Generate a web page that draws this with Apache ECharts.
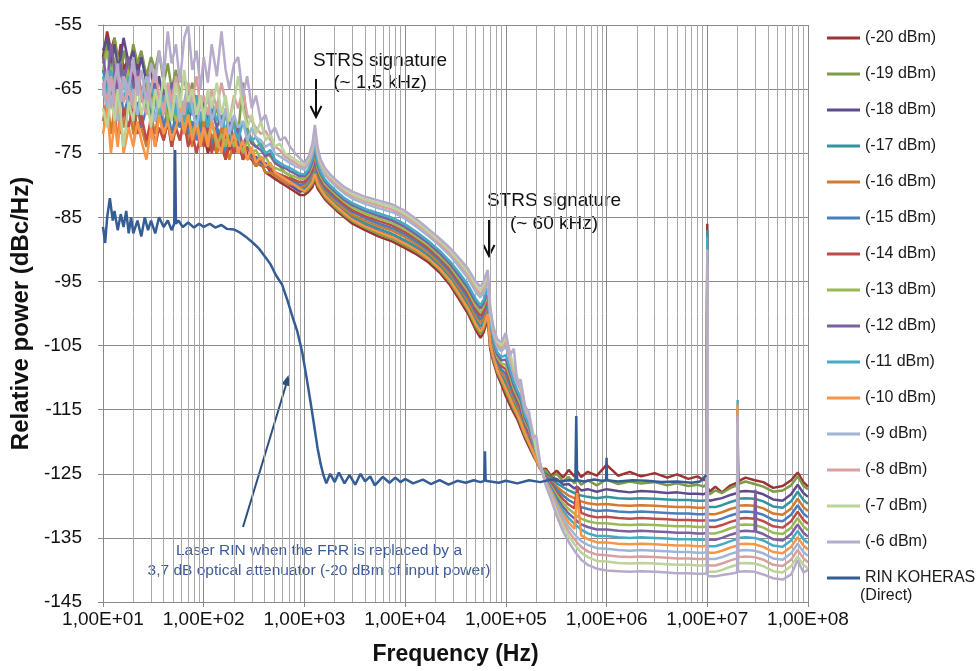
<!DOCTYPE html>
<html lang="en">
<head>
<meta charset="UTF-8">
<title>FRR RIN</title>
<script src="https://cdn.jsdelivr.net/npm/echarts@6/dist/echarts.min.js"></script>
<style>
  html, body { margin: 0; padding: 0; background: #fff; }
  #main { width: 976px; height: 671px; }
</style>
</head>
<body>
<div id="main"></div>
<script>
// shared frequency grid (Hz) for the FRR traces
var freq = [10, 11, 12, 13, 14, 15, 16, 18, 20, 22, 24, 27, 30, 33, 36, 40, 44, 48, 53, 58, 64, 70, 77, 85, 93,
  100, 110, 120, 135, 150, 165, 180, 200, 220, 245, 270, 300, 330, 370, 410, 460, 510, 570, 640, 720, 810, 900,
  1000, 1100, 1200, 1270, 1350, 1450, 1600, 1800, 2100, 2500, 3000, 4000, 5500, 7500, 10000, 13000, 17000, 22000, 28000, 35000, 42000, 50000, 56000, 60000, 66000, 70000, 75000, 82000, 90000,
  1e5, 1.1e5, 1.2e5, 1.3e5, 1.4e5, 1.55e5, 1.7e5, 1.85e5, 2e5, 2.2e5,
  2.5e5, 2.8e5, 3.2e5, 3.7e5, 4.2e5, 4.8e5, 5.1e5, 5.6e5, 6.5e5, 8e5,
  1e6, 1.3e6, 1.7e6, 2.2e6, 3e6, 4e6, 5e6, 6.5e6, 8e6, 9.2e6, 9.9e6, 1e7, 1.01e7, 1.06e7, 1.2e7, 1.4e7, 1.7e7, 1.98e7, 2e7, 2.02e7, 2.4e7, 2.95e7, 3e7, 3.05e7, 3.6e7, 4.5e7, 5.6e7, 6.8e7, 7.9e7, 9e7, 1e8];

var p20 = [-60, -56, -59, -57, -61, -58, -62, -60, -64, -61, -66, -63, -67, -65, -69, -66, -70, -68, -71, -69, -72, -70, -73, -71, -74,
  -72, -75, -73, -75, -72, -76, -74, -75, -73, -76, -75, -76, -77, -76.5, -78, -78.5, -79, -79.5, -80, -80.5, -81, -81.5,
  -81.5, -81.0, -80.3, -79.2, -80.5, -81.2, -82.2, -83.0, -84.0, -85.0, -86.0, -87.0, -88.0, -88.8, -89.8, -90.8, -92.0, -93.6, -95.6, -98.0, -100.0, -102.5, -103.8, -103.0, -101.0, -105.6, -107.5, -109.5, -111.0,
  -112.9, -114.3, -115.5, -116.5, -117.8, -119.5, -120.8, -122.0, -123.0, -124.3,
  -124.2, -125.3, -124.5, -125.6, -124.4, -125.4, -124.6, -125.5, -124.7, -125.3,
  -123.6, -125.3, -124.7, -125.4, -124.9, -125.6, -125.1, -125.8, -125.4, -126.0, -125.6, -86, -127.2, -127.8, -127.0, -127.9, -126.8, -126.4, -115, -126.2, -125.6, -126.0, -125.8, -126.1, -126.3, -127.2, -126.9, -126.0, -124.8, -126.3, -127.0];

var p19 = [-61, -58, -62, -57, -60, -63, -59, -62, -58, -61, -59, -63, -60, -62, -59, -64, -61, -65, -62, -66, -63, -67, -64, -68, -66,
  -69, -66, -70, -68, -71, -69, -72, -70, -72, -64, -71, -73, -74, -73.5, -75, -75.5, -76.5, -77, -78, -78.5, -79.5, -80,
  -81.1, -80.6, -79.8, -78.6, -80.0, -80.8, -81.9, -82.7, -83.7, -84.7, -85.6, -86.6, -87.6, -88.4, -89.4, -90.4, -91.6, -93.2, -95.2, -97.5, -99.5, -102.0, -103.2, -102.4, -100.4, -105.1, -107.1, -109.1, -110.5,
  -112.2, -113.7, -115.0, -116.0, -117.3, -119.1, -120.4, -121.7, -122.9, -124.2,
  -124.5, -125.6, -125.0, -126.2, -125.5, -126.5, -125.8, -126.7, -126.0, -126.8,
  -125.9, -126.6, -126.2, -126.5, -126.3, -126.8, -126.5, -126.9, -126.7, -127.0, -126.6, -87, -127.9, -128.2, -127.6, -128.0, -127.2, -126.8, -115.5, -126.6, -126.2, -126.6, -126.4, -126.7, -127.0, -127.8, -127.6, -126.8, -125.4, -126.9, -127.4];

var p18 = [-59, -57, -61, -58, -62, -60, -57, -61, -59, -63, -60, -64, -62, -66, -63, -67, -65, -68, -66, -69, -67, -70, -68, -71, -69,
  -72, -70, -73, -71, -74, -72, -74, -73, -75, -73, -75, -76, -75.5, -77, -76.5, -78, -78.5, -79, -79.5, -80, -80.5, -81,
  -80.8, -80.2, -79.3, -78.0, -79.6, -80.5, -81.5, -82.3, -83.3, -84.3, -85.3, -86.3, -87.2, -88.0, -89.0, -90.0, -91.3, -92.8, -94.8, -97.1, -99.0, -101.4, -102.7, -101.9, -99.9, -104.7, -106.7, -108.7, -110.1,
  -111.5, -113.0, -114.4, -115.5, -116.7, -118.7, -120.0, -121.4, -122.7, -124.2,
  -125.1, -125.6, -125.8, -126.7, -126.6, -127.3, -127.0, -127.6, -127.4, -127.8,
  -127.4, -127.7, -127.9, -127.7, -127.8, -128.0, -127.9, -128.1, -128.1, -128.2, -127.9, -88, -129.0, -129.2, -129.0, -128.8, -128.3, -128.0, -116, -127.8, -127.7, -127.8, -127.8, -127.8, -128.2, -129.0, -129.2, -128.2, -126.7, -128.0, -128.6];

var p17 = [-62, -65, -61, -64, -63, -66, -62, -65, -68, -64, -67, -65, -69, -66, -70, -67, -69, -66, -70, -68, -71, -68, -72, -69, -71,
  -69, -72, -70, -73, -71, -74, -72, -74, -73, -75, -74, -75, -76, -75.5, -77, -77, -78, -78.5, -79, -79.5, -80, -80.5,
  -80.4, -79.8, -78.8, -77.4, -79.1, -80.1, -81.2, -82.0, -83.0, -84.0, -84.9, -85.9, -86.8, -87.6, -88.6, -89.6, -90.9, -92.5, -94.4, -96.6, -98.5, -100.9, -102.1, -101.3, -99.3, -104.2, -106.3, -108.3, -109.6,
  -110.8, -112.4, -113.9, -115.0, -116.2, -118.3, -119.6, -121.1, -122.6, -124.1,
  -125.2, -125.7, -126.5, -127.1, -127.6, -128.0, -128.2, -128.4, -128.6, -128.8,
  -128.6, -128.8, -128.9, -128.8, -128.9, -129.0, -129.1, -129.1, -129.2, -129.2, -129.1, -87, -130.1, -130.2, -130.2, -129.9, -129.4, -129.1, -116.5, -128.9, -128.8, -128.9, -128.9, -128.9, -129.3, -130.1, -130.3, -129.3, -127.8, -129.1, -129.7];

var p16 = [-70, -66, -72, -68, -73, -69, -71, -67, -72, -68, -71, -74, -69, -72, -68, -73, -70, -74, -71, -73, -69, -72, -74, -71, -73,
  -70, -74, -72, -75, -71, -74, -76, -73, -75, -74, -76, -75.5, -77, -76.5, -78, -78, -78.5, -79, -79.5, -79.8, -80, -80.3,
  -80.1, -79.4, -78.4, -76.7, -78.6, -79.7, -80.8, -81.7, -82.7, -83.7, -84.6, -85.5, -86.4, -87.1, -88.1, -89.2, -90.5, -92.1, -93.9, -96.1, -98.0, -100.4, -101.5, -100.7, -98.8, -103.7, -105.9, -107.9, -109.1,
  -110.1, -111.8, -113.4, -114.5, -115.7, -117.9, -119.3, -120.9, -122.4, -124.1,
  -125.3, -126.0, -127.0, -127.8, -128.4, -128.8, -129.1, -129.3, -129.6, -129.8,
  -129.7, -129.9, -130.0, -129.9, -130.0, -130.1, -130.2, -130.2, -130.3, -130.3, -130.2, -89, -131.2, -131.3, -131.3, -131.0, -130.5, -130.2, -116, -130.0, -129.9, -130.0, -130.0, -130.0, -130.4, -131.2, -131.4, -130.4, -128.9, -130.2, -130.8];

var p15 = [-66, -63, -67, -64, -68, -65, -69, -66, -70, -67, -71, -68, -66, -70, -67, -71, -68, -72, -69, -71, -68, -72, -70, -73, -71,
  -73, -70, -74, -71, -73, -75, -72, -74, -73, -75, -74, -75.5, -76, -76.5, -77, -77.5, -78, -78.5, -79, -79.3, -79.6, -80,
  -79.7, -79.0, -77.9, -76.1, -78.2, -79.3, -80.5, -81.3, -82.3, -83.3, -84.2, -85.1, -86.0, -86.7, -87.7, -88.8, -90.1, -91.7, -93.5, -95.7, -97.5, -99.8, -101.0, -100.1, -98.2, -103.2, -105.5, -107.5, -108.7,
  -109.4, -111.2, -112.8, -114.0, -115.1, -117.5, -118.9, -120.6, -122.3, -124.0,
  -125.5, -126.3, -127.4, -128.4, -129.1, -129.6, -129.9, -130.2, -130.5, -130.8,
  -130.7, -130.9, -131.0, -130.9, -131.0, -131.1, -131.2, -131.2, -131.3, -131.3, -131.2, -90, -132.2, -132.3, -132.3, -132.0, -131.5, -131.2, -117, -131.0, -130.9, -131.0, -131.0, -131.0, -131.4, -132.2, -132.4, -131.4, -129.9, -131.2, -131.8];

var p14 = [-64, -68, -65, -70, -67, -72, -68, -71, -67, -72, -69, -73, -70, -74, -71, -73, -70, -74, -71, -73, -70, -74, -72, -75, -72,
  -74, -71, -75, -72, -74, -76, -73, -75, -72, -76, -74, -75, -76.5, -76, -77, -77.5, -78, -78.3, -78.6, -79, -79.2, -79.5,
  -79.4, -78.6, -77.4, -75.5, -77.7, -79.0, -80.1, -81.0, -82.0, -83.0, -83.9, -84.8, -85.6, -86.3, -87.3, -88.4, -89.8, -91.3, -93.1, -95.2, -97.0, -99.3, -100.4, -99.6, -97.7, -102.8, -105.1, -107.1, -108.2,
  -108.7, -110.5, -112.3, -113.5, -114.6, -117.1, -118.5, -120.3, -122.1, -124.0,
  -125.6, -126.6, -127.9, -129.0, -129.8, -130.4, -127.0, -131.1, -131.5, -131.8,
  -131.7, -131.9, -132.0, -131.9, -132.0, -132.1, -132.2, -132.2, -132.3, -132.3, -132.2, -88, -133.2, -133.3, -133.3, -133.0, -132.5, -132.2, -117, -132.0, -131.9, -132.0, -128.0, -132.0, -132.4, -133.2, -133.4, -132.4, -130.9, -132.2, -132.8];

var p13 = [-62, -59, -63, -60, -64, -61, -65, -62, -66, -63, -67, -64, -68, -65, -69, -66, -70, -67, -70, -68, -71, -69, -72, -70, -73,
  -71, -73, -70, -74, -72, -74, -71, -74, -72, -75, -73, -75, -74.5, -76, -75.5, -77, -77.3, -77.6, -78, -78.4, -78.7, -79,
  -79.0, -78.3, -76.9, -74.9, -77.3, -78.6, -79.8, -80.6, -81.6, -82.6, -83.5, -84.4, -85.2, -85.9, -86.9, -88.1, -89.4, -91.0, -92.7, -94.8, -96.5, -98.8, -99.8, -99.0, -97.1, -102.3, -104.8, -106.8, -107.8,
  -108.0, -109.9, -111.8, -113.0, -114.1, -116.8, -118.1, -120.0, -122.0, -123.9,
  -125.8, -126.9, -128.3, -129.6, -130.5, -131.2, -131.6, -132.0, -132.4, -132.7,
  -132.7, -132.9, -133.0, -132.9, -133.0, -133.1, -133.2, -133.2, -133.3, -133.3, -133.2, -90, -134.2, -134.3, -134.3, -134.0, -133.5, -133.2, -117.5, -133.0, -132.9, -133.0, -133.0, -133.0, -133.4, -134.2, -134.4, -133.4, -131.9, -133.2, -133.8];

var p12 = [-60, -64, -58, -62, -66, -61, -64, -60, -65, -62, -67, -63, -66, -64, -68, -65, -67, -64, -68, -66, -69, -65, -68, -66, -70,
  -67, -70, -68, -71, -69, -72, -70, -73, -71, -74, -72, -73.5, -74, -74.5, -75.5, -75, -76.5, -77, -77.3, -77.8, -78.2, -78.6,
  -78.6, -77.9, -76.4, -74.3, -76.8, -78.2, -79.4, -80.3, -81.3, -82.3, -83.1, -84.0, -84.8, -85.5, -86.5, -87.7, -89.0, -90.6, -92.3, -94.3, -96.0, -98.2, -99.2, -98.4, -96.5, -101.8, -104.4, -106.4, -107.3,
  -107.2, -109.3, -111.2, -112.5, -113.5, -116.4, -117.7, -119.7, -121.9, -123.8,
  -125.9, -127.2, -128.8, -130.2, -131.2, -132.0, -132.4, -132.9, -133.3, -133.7,
  -133.7, -133.9, -134.0, -133.9, -134.0, -134.1, -134.2, -134.2, -134.3, -134.3, -134.2, -91, -135.2, -135.3, -135.3, -135.0, -134.5, -134.2, -117.5, -134.0, -133.9, -134.0, -127.5, -134.0, -134.4, -135.2, -135.4, -134.4, -132.9, -134.2, -134.8];

var p11 = [-63, -66, -62, -65, -68, -64, -67, -63, -66, -69, -65, -68, -64, -67, -70, -66, -68, -65, -69, -66, -70, -67, -69, -66, -70,
  -68, -71, -67, -70, -68, -72, -69, -71, -73, -70, -72, -73, -72.5, -74, -75, -74.5, -76, -76.5, -77, -77.3, -77.8, -78.2,
  -78.3, -77.5, -75.9, -73.7, -76.3, -77.9, -79.1, -80.0, -81.0, -82.0, -82.8, -83.7, -84.4, -85.1, -86.1, -87.3, -88.7, -90.2, -91.9, -93.8, -95.5, -97.7, -98.7, -97.9, -96.0, -101.4, -104.0, -106.0, -106.8,
  -106.5, -108.6, -110.7, -112.0, -113.0, -116.0, -117.3, -119.4, -121.7, -123.8,
  -126.1, -127.4, -129.2, -130.8, -131.9, -132.8, -133.2, -133.7, -134.3, -134.7,
  -134.7, -134.9, -135.0, -134.9, -135.0, -135.1, -135.2, -135.2, -135.3, -135.3, -135.2, -88, -136.2, -136.3, -136.3, -136.0, -135.5, -135.2, -113.5, -135.0, -134.9, -135.0, -135.0, -135.0, -135.4, -136.2, -136.4, -135.4, -133.9, -135.2, -135.8];

var p10 = [-72, -68, -75, -70, -74, -69, -75, -71, -74, -70, -73, -76, -71, -74, -69, -72, -70, -73, -71, -68, -72, -69, -73, -70, -74,
  -71, -74, -70, -73, -75, -71, -74, -72, -75, -73, -76, -74, -76.5, -75.5, -77, -76.5, -78, -78.5, -79, -79.5, -80, -80.5,
  -80.9, -80.3, -79.5, -78.2, -79.7, -80.6, -81.6, -82.4, -83.4, -84.4, -85.4, -86.4, -87.3, -88.1, -89.1, -90.1, -91.4, -93.0, -94.9, -97.2, -99.2, -101.6, -102.8, -102.0, -100.1, -104.8, -106.8, -108.8, -110.2,
  -111.7, -113.2, -114.6, -115.7, -116.9, -118.8, -120.2, -121.5, -122.8, -124.2,
  -126.2, -127.7, -129.7, -131.4, -132.6, -133.6, -128.0, -134.6, -135.2, -135.7,
  -135.7, -135.9, -136.0, -135.9, -136.0, -136.1, -136.2, -136.2, -136.3, -136.3, -136.2, -92, -137.2, -137.3, -137.3, -137.0, -136.5, -136.2, -114.2, -136.0, -135.9, -136.0, -136.0, -136.0, -136.4, -137.2, -137.4, -136.4, -134.9, -136.2, -136.8];

var p9 = [-65, -68, -64, -67, -70, -66, -63, -68, -65, -69, -66, -63, -67, -70, -66, -68, -65, -69, -66, -70, -67, -64, -68, -71, -67,
  -69, -66, -70, -67, -71, -68, -72, -69, -71, -70, -73, -71, -72.5, -73, -74, -73.5, -75, -75.5, -76, -76.5, -77, -77.3,
  -77.6, -76.7, -75.0, -72.4, -75.4, -77.1, -78.4, -79.3, -80.3, -81.3, -82.1, -82.9, -83.6, -84.2, -85.2, -86.5, -87.9, -89.4, -91.0, -92.9, -94.5, -96.6, -97.5, -96.7, -94.9, -100.4, -103.2, -105.2, -105.9,
  -105.1, -107.4, -109.6, -111.0, -111.9, -115.2, -116.6, -118.9, -121.4, -123.7,
  -126.4, -128.0, -130.1, -132.0, -133.3, -134.4, -134.9, -135.5, -136.1, -136.6,
  -136.7, -136.9, -137.0, -136.9, -137.0, -137.1, -137.2, -137.2, -137.3, -137.3, -137.2, -93, -138.2, -138.3, -138.3, -138.0, -137.5, -137.2, -117, -137.0, -136.9, -137.0, -137.0, -137.0, -137.4, -138.2, -138.4, -137.4, -135.9, -137.2, -137.8];

var p8 = [-64, -67, -63, -66, -69, -64, -67, -65, -68, -63, -66, -69, -65, -62, -66, -69, -64, -67, -63, -66, -69, -64, -67, -63, -68,
  -66, -69, -65, -68, -64, -67, -70, -66, -68, -65, -69, -70, -71, -72, -71.5, -73, -74, -74.5, -75.5, -76, -76.5, -77,
  -77.2, -76.3, -74.5, -71.8, -74.9, -76.7, -78.0, -79.0, -80.0, -81.0, -81.7, -82.5, -83.2, -83.8, -84.8, -86.1, -87.5, -89.1, -90.6, -92.4, -94.0, -96.1, -97.0, -96.1, -94.3, -99.9, -102.8, -104.8, -105.4,
  -104.4, -106.8, -109.1, -110.5, -111.4, -114.8, -116.2, -118.6, -121.3, -123.6,
  -126.5, -128.3, -130.6, -132.6, -134.0, -135.2, -135.7, -136.4, -137.1, -137.6,
  -137.7, -137.9, -138.0, -137.9, -138.0, -138.1, -138.2, -138.2, -138.3, -138.3, -138.2, -94, -139.2, -139.3, -139.3, -139.0, -138.5, -138.2, -117, -138.0, -137.9, -138.0, -138.0, -138.0, -138.4, -139.2, -139.4, -138.4, -136.9, -138.2, -138.8];

var p7 = [-68, -71, -66, -70, -65, -69, -74, -67, -70, -64, -69, -66, -71, -65, -68, -63, -67, -70, -64, -68, -62, -67, -65, -69, -66,
  -70, -65, -68, -64, -69, -66, -70, -67, -63, -68, -71, -69, -72, -70, -73, -72, -74, -73.5, -75, -75.5, -76, -76.5,
  -76.9, -75.9, -74.0, -71.2, -74.5, -76.4, -77.7, -78.6, -79.6, -80.6, -81.4, -82.2, -82.8, -83.4, -84.4, -85.7, -87.2, -88.7, -90.2, -92.0, -93.5, -95.5, -96.4, -95.6, -93.8, -99.5, -102.4, -104.4, -105.0,
  -103.7, -106.1, -108.5, -110.0, -110.8, -114.4, -115.8, -118.3, -121.1, -123.6,
  -126.7, -128.6, -131.0, -133.2, -134.7, -136.0, -136.5, -137.3, -138.0, -138.6,
  -138.7, -138.9, -139.0, -138.9, -139.0, -139.1, -139.2, -139.2, -139.3, -139.3, -139.2, -95, -140.2, -140.3, -140.3, -140.0, -139.5, -139.2, -117, -139.0, -138.9, -139.0, -139.0, -139.0, -139.4, -140.2, -140.4, -139.4, -137.9, -139.2, -139.8];

var p6 = [-66, -62, -68, -64, -61, -67, -63, -65, -60, -66, -62, -67, -61, -64, -59, -63, -56, -61, -58, -64, -57, -55, -62, -59, -65,
  -60, -64, -58, -63, -56, -62, -65, -61, -60, -66, -63, -68, -66, -70, -69, -72, -71, -73, -72.5, -74, -75, -75.8,
  -76.5, -75.5, -73.5, -70.6, -74.0, -76.0, -77.3, -78.3, -79.3, -80.3, -81.0, -81.8, -82.4, -83.0, -84.0, -85.3, -86.8, -88.3, -89.8, -91.5, -93.0, -95.0, -95.8, -95.0, -93.2, -99.0, -102.0, -104.0, -104.5,
  -103.0, -106.5, -105.5, -111.0, -110.3, -114.5, -115.4, -119.5, -119.0, -123.5,
  -126.9, -128.9, -131.6, -134.0, -135.6, -137.0, -137.6, -138.4, -139.2, -139.8,
  -140.1, -140.2, -140.3, -140.2, -140.3, -140.4, -140.5, -140.5, -140.6, -140.6, -140.5, -90, -140.9, -141.0, -141.0, -140.8, -140.6, -140.4, -116, -140.3, -140.2, -140.3, -140.3, -140.3, -140.7, -141.3, -141.5, -140.7, -138.5, -140.4, -140.0];

// RIN KOHERAS (direct) trace, [Hz, dBc/Hz]
var rinKoheras = [[10, -86.5], [10.5, -89], [11, -85], [11.7, -82], [12.5, -85.5], [13, -84], [14, -87], [15, -84.5], [16, -86.5], [17, -84],
  [18, -87.5], [19, -85], [20, -87.5], [22, -85.5], [24, -88], [26, -85], [28, -87], [30, -85.5], [33, -87.5], [36, -85],
  [40, -86.5], [44, -85.5], [48, -87], [51, -86], [52, -74.5], [53, -86], [56, -85.5], [62, -86.5], [70, -85.8], [80, -86.6],
  [90, -86], [100, -86.5], [115, -86], [130, -86.6], [150, -86.2], [170, -86.8], [200, -86.9], [230, -87.4], [270, -88.2], [310, -89],
  [350, -89.8], [400, -91], [460, -92.3], [520, -94], [600, -95.5], [680, -98], [760, -100.5], [850, -102.8], [950, -106], [1050, -110],
  [1150, -113.8], [1250, -117.5], [1350, -121], [1450, -123.5], [1550, -125.3], [1650, -126.5], [1800, -125], [2000, -126.3], [2200, -124.8], [2500, -126.5],
  [2800, -125.2], [3200, -126.7], [3600, -125], [4000, -126.2], [4500, -125.4], [5000, -126.8], [6000, -125.5], [7000, -126.4], [8000, -125.6], [9000, -126.3],
  [10000, -125.8], [12000, -126.5], [15000, -125.9], [18000, -126.6], [22000, -126], [27000, -126.7], [33000, -126.1], [40000, -126.4], [48000, -126], [56000, -126.3],
  [61000, -126.1], [62000, -121.5], [63000, -126.1], [70000, -126.2], [85000, -126.4], [100000, -126.1], [130000, -126.5], [170000, -126], [220000, -126.3], [280000, -125.9],
  [350000, -126.2], [420000, -126], [490000, -126.1], [500000, -116], [510000, -126], [600000, -126.2], [750000, -125.9], [900000, -126.1], [990000, -126], [1000000, -122.5],
  [1010000, -126], [1300000, -126.2], [1800000, -126], [2500000, -126.1], [3500000, -126.3], [5000000, -126.2], [7000000, -126.4], [8500000, -126.2], [9400000, -125.5], [9800000, -125.2]];

var names = ['(-20 dBm)', '(-19 dBm)', '(-18 dBm)', '(-17 dBm)', '(-16 dBm)', '(-15 dBm)', '(-14 dBm)', '(-13 dBm)',
  '(-12 dBm)', '(-11 dBm)', '(-10 dBm)', '(-9 dBm)', '(-8 dBm)', '(-7 dBm)', '(-6 dBm)'];
var traces = [p20, p19, p18, p17, p16, p15, p14, p13, p12, p11, p10, p9, p8, p7, p6];
var colors = ['#9c3532', '#7f9a48', '#5f4b8b', '#31949e', '#d27b2f', '#4a7ebb', '#be4b48', '#98b954',
  '#7d60a0', '#46aac5', '#f79646', '#9eb5d6', '#d9a0a0', '#bcd39a', '#b7abcb'];
var rinName = 'RIN KOHERAS (Direct)';
var rinColor = '#345d96';

var FONT = 'Liberation Sans, Arial, sans-serif';

// log minor grid (2..9 in every decade)
var minorLines = [];
for (var e = 1; e < 8; e++) {
  for (var m = 2; m <= 9; m++) minorLines.push({ xAxis: m * Math.pow(10, e) });
}

var series = traces.map(function (vals, i) {
  var s = {
    name: names[i],
    type: 'line',
    data: freq.map(function (f, k) { return [f, vals[k]]; }),
    symbol: 'none',
    color: colors[i],
    lineStyle: { width: 2.5, color: colors[i] },
    z: 3,
    animation: false
  };
  if (i === 0) {
    s.markLine = {
      silent: true, symbol: 'none', z: 1, animation: false,
      label: { show: false },
      lineStyle: { color: '#a8a8a8', width: 1, type: 'solid' },
      emphasis: { disabled: true },
      data: minorLines
    };
  }
  return s;
});
series.push({
  name: rinName,
  type: 'line',
  data: rinKoheras,
  symbol: 'none',
  color: rinColor,
  lineStyle: { width: 2.5, color: rinColor },
  z: 4,
  animation: false
});

var chart = echarts.init(document.getElementById('main'));
var option = {
  animation: false,
  backgroundColor: '#ffffff',
  textStyle: { fontFamily: FONT },
  grid: { left: 103, right: 168, top: 25, bottom: 68 },
  xAxis: {
    type: 'log', logBase: 10, min: 10, max: 1e8,
    name: 'Frequency (Hz)', nameLocation: 'middle', nameGap: 41,
    nameTextStyle: { fontSize: 23, fontWeight: 'bold', color: '#111', fontFamily: FONT },
    axisLine: { show: true, lineStyle: { color: '#8a8a8a', width: 1 } },
    axisTick: { show: true, length: 5, lineStyle: { color: '#8a8a8a' } },
    axisLabel: {
      fontSize: 19, color: '#111', margin: 8, fontFamily: FONT,
      formatter: function (v) {
        var ex = Math.round(Math.log(v) / Math.LN10);
        return '1,00E+' + (ex < 10 ? '0' : '') + ex;
      }
    },
    splitLine: { show: true, lineStyle: { color: '#8a8a8a', width: 1 } }
  },
  yAxis: {
    type: 'value', min: -145, max: -55, interval: 10,
    name: 'Relative power (dBc/Hz)', nameLocation: 'middle', nameGap: 69,
    nameTextStyle: { fontSize: 24, fontWeight: 'bold', color: '#111', fontFamily: FONT },
    axisLine: { show: true, lineStyle: { color: '#8a8a8a', width: 1 } },
    axisTick: { show: true, length: 5, lineStyle: { color: '#8a8a8a' } },
    axisLabel: { fontSize: 19, color: '#111', margin: 21, fontFamily: FONT },
    splitLine: { show: true, lineStyle: { color: '#8a8a8a', width: 1 } }
  },
  legend: {
    orient: 'vertical', left: 822, top: 25,
    icon: 'rect', itemWidth: 33, itemHeight: 3, itemGap: 20,
    selectedMode: false,
    data: names.concat([rinName]),
    formatter: function (n) { return n === rinName ? 'RIN KOHERAS' : n; },
    textStyle: { fontSize: 16, color: '#1a1a1a', fontFamily: FONT }
  },
  graphic: [
    { type: 'text', left: 860, top: 588, style: { text: '(Direct)', fontSize: 16, fill: '#1a1a1a', fontFamily: FONT } },
    // STRS 1.5 kHz
    { type: 'text', x: 380, y: 61, style: { text: 'STRS signature', fontSize: 19, fill: '#111', align: 'center', verticalAlign: 'middle', fontFamily: FONT } },
    { type: 'text', x: 380, y: 83, style: { text: '(~ 1,5 kHz)', fontSize: 19, fill: '#111', align: 'center', verticalAlign: 'middle', fontFamily: FONT } },
    { type: 'line', shape: { x1: 316, y1: 79, x2: 316, y2: 116 }, style: { stroke: '#111', lineWidth: 2 } },
    { type: 'polyline', shape: { points: [[310.5, 106], [316, 117], [321.5, 106]] }, style: { stroke: '#111', lineWidth: 2, fill: null } },
    // STRS 60 kHz
    { type: 'text', x: 554, y: 201, style: { text: 'STRS signature', fontSize: 19, fill: '#111', align: 'center', verticalAlign: 'middle', fontFamily: FONT } },
    { type: 'text', x: 554, y: 224, style: { text: '(~ 60 kHz)', fontSize: 19, fill: '#111', align: 'center', verticalAlign: 'middle', fontFamily: FONT } },
    { type: 'line', shape: { x1: 489, y1: 220, x2: 489, y2: 256 }, style: { stroke: '#111', lineWidth: 2 } },
    { type: 'polyline', shape: { points: [[483.5, 245], [489, 256], [494.5, 245]] }, style: { stroke: '#111', lineWidth: 2, fill: null } },
    // laser RIN note
    { type: 'line', shape: { x1: 243, y1: 527, x2: 286, y2: 385 }, style: { stroke: '#2c4f7f', lineWidth: 2 } },
    { type: 'polygon', shape: { points: [[288.5, 375], [290, 386.5], [281.5, 384]] }, style: { fill: '#2c4f7f' } },
    { type: 'text', x: 319, y: 551, style: { text: 'Laser RIN when the FRR is replaced by a', fontSize: 15.5, fill: '#3c5c97', align: 'center', verticalAlign: 'middle', fontFamily: FONT } },
    { type: 'text', x: 319, y: 571, style: { text: '3,7 dB optical attenuator (-20 dBm of input power)', fontSize: 15.5, fill: '#3c5c97', align: 'center', verticalAlign: 'middle', fontFamily: FONT } }
  ],
  series: series
};
chart.setOption(option);
</script>
</body>
</html>
